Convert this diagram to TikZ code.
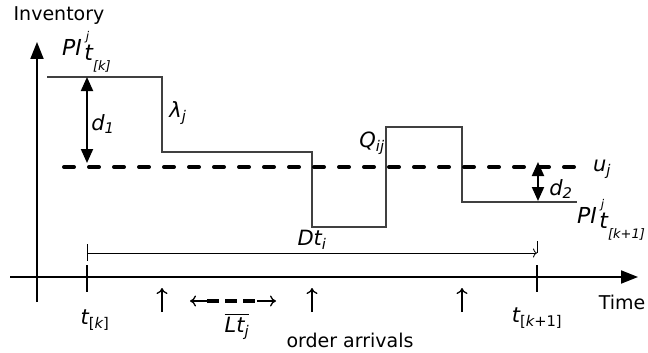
\documentclass[tikz,border=0pt]{standalone}
\usepackage{amsmath}
\usepackage{fontspec}
\setmainfont{DejaVu Sans}
\usetikzlibrary{arrows.meta}
\newcommand{\PIlbl}[1]{\fontsize{22}{22}\selectfont\textit{PI}\kern4pt\raisebox{15pt}{\fontsize{12}{12}\selectfont\textit{j}}\kern-5pt\raisebox{-5pt}{\textit{t}}\kern-0.5pt\raisebox{-15pt}{\fontsize{13}{13}\selectfont\textit{#1}}}
\begin{document}
\begin{tikzpicture}[x=1pt,y=-1pt,
  lbl/.style={inner sep=0pt, font=\fontsize{19}{23}\selectfont},
  lblm/.style={inner sep=0pt, font=\fontsize{21}{25}\selectfont},
  axis/.style={line width=2pt, -{Triangle[length=17pt,width=13pt]}},
  stepline/.style={line width=1.1pt, draw=black!75},
  ulevel/.style={line width=4pt, dash pattern=on 10pt off 15pt, line cap=round},
  dimarrow/.style={line width=2pt, {Triangle[length=14pt,width=12pt]}-{Triangle[length=14pt,width=12pt]}},
  tickmark/.style={line width=2pt},
  thinarrow/.style={line width=1.3pt, -{To[length=6pt,width=11pt]}},
  spanline/.style={line width=0.8pt},
  ltdash/.style={line width=3.5pt, dash pattern=on 12pt off 6pt},
]
\useasboundingbox (0,0) rectangle (648,353);

% axes
\coordinate (yb) at (37,302); \coordinate (yt) at (37,42);
\coordinate (xl) at (10,277); \coordinate (xr) at (638,277);
\draw[axis] (yb) -- (yt);
\draw[axis] (xl) -- (xr);

% ticks on the time axis
\coordinate (k0a) at (87,265); \coordinate (k0b) at (87,292);
\coordinate (k1a) at (537,265); \coordinate (k1b) at (537,292);
\draw[tickmark] (k0a) -- (k0b);
\draw[tickmark] (k1a) -- (k1b);

% inventory step line
\coordinate (s0) at (47,77);  \coordinate (s1) at (162,77);
\coordinate (s2) at (162,152); \coordinate (s3) at (312,152);
\coordinate (s4) at (312,227); \coordinate (s5) at (386,227);
\coordinate (s6) at (386,127); \coordinate (s7) at (462,127);
\coordinate (s8) at (462,202); \coordinate (s9) at (577,202);
\draw[stepline] (s0) -- (s1) -- (s2) -- (s3) -- (s4) -- (s5) -- (s6) -- (s7) -- (s8) -- (s9);

% u_j level
\coordinate (u0) at (64,167); \coordinate (u1) at (582,167);
\draw[ulevel] (u0) -- (u1);

% d1 and d2
\coordinate (d1a) at (87,77); \coordinate (d1b) at (87,163);
\draw[dimarrow] (d1a) -- (d1b);
\coordinate (d2a) at (538,162); \coordinate (d2b) at (538,201);
\draw[dimarrow] (d2a) -- (d2b);

% Dt span
\coordinate (dt0) at (87,253); \coordinate (dt1) at (537,253);
\coordinate (dt0u) at (87,244); \coordinate (dt0d) at (87,261);
\coordinate (dt1u) at (537,241);
\draw[spanline] (dt0u) -- (dt0d);
\draw[spanline] (dt1u) -- (dt1);
\draw[spanline, -{To[length=4pt,width=9pt]}] (dt0) -- (dt1);

% order arrival arrows
\coordinate (a1b) at (162,312); \coordinate (a1t) at (162,288);
\coordinate (a2b) at (312,312); \coordinate (a2t) at (312,288);
\coordinate (a3b) at (462,312); \coordinate (a3t) at (462,288);
\draw[thinarrow] (a1b) -- (a1t);
\draw[thinarrow] (a2b) -- (a2t);
\draw[thinarrow] (a3b) -- (a3t);

% lead time arrow
\coordinate (lt0) at (190,301); \coordinate (lt1) at (207,301);
\coordinate (lt2) at (257,301); \coordinate (lt3) at (276,301);
\draw[thinarrow] (lt1) -- (lt0);
\draw[ltdash] (lt1) -- (lt2);
\draw[thinarrow] (lt2) -- (lt3);

% labels
\node[lbl] (inv) at (59,16) {Inventory};
\node[lbl] (time) at (622,302) {Time};
\node[inner sep=0pt, anchor=base west] (pik) at (62,56) {\PIlbl{[k]}};
\node[inner sep=0pt, anchor=base west] (pik1) at (577,223) {\PIlbl{[k+1]}};
\node[lblm] (lam) at (178,113) {$\textit{λ}_{\textit{j}}$};
\node[lblm] (dlab1) at (103,124) {$\textit{d}_{\textit{1}}$};
\node[lblm] (dlab2) at (561,189) {$\textit{d}_{\textit{2}}$};
\node[lblm] (q) at (372,143) {$\textit{Q}_{\textit{ij}}$};
\node[lblm] (u) at (602,169) {$\textit{u}_{\textit{j}}$};
\node[lblm] (dt) at (312,240) {$\textit{Dt}_{\textit{i}}$};
\node[lblm] (ltl) at (237,326) {$\overline{\textit{Lt}_{\textit{j}}}$};
\node[lbl] (oa) at (350,340) {order arrivals};
\node[lblm] (tk) at (95,320) {$\textit{t}_{\textup{[}\textit{k}\textup{]}}$};
\node[lblm] (tk1) at (537,318) {$\textit{t}_{\textup{[}\textit{k}\textup{+1]}}$};
\end{tikzpicture}
\end{document}
